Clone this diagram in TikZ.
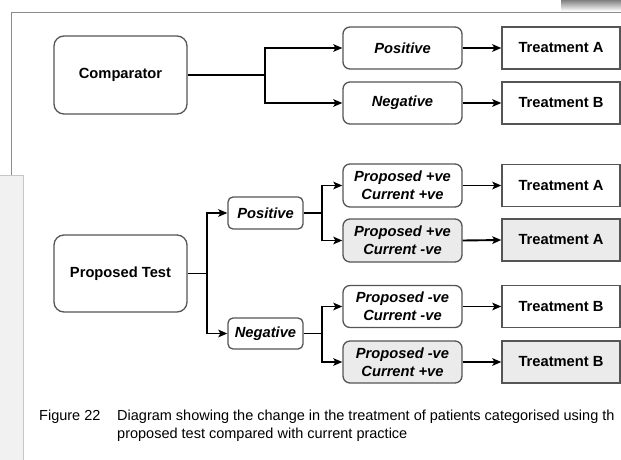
\documentclass[tikz,border=0pt]{standalone}
\usepackage{fontspec}
\setmainfont{Liberation Sans}
\usetikzlibrary{arrows.meta}
\definecolor{boxline}{HTML}{555555}
\definecolor{shade}{HTML}{EBEBEB}
\definecolor{frameline}{HTML}{8A8A8A}
\definecolor{panel}{HTML}{F1F1F1}
\tikzset{
  txt/.style={font=\fontsize{14.7}{18}\selectfont\bfseries, align=center, inner sep=0pt},
  bigbox/.style={txt, draw=boxline, line width=1.3pt, rounded corners=10pt},
  catbox/.style={txt, draw=boxline, line width=1.3pt, rounded corners=7pt, font=\fontsize{14.7}{18}\selectfont\bfseries\itshape},
  treatbox/.style={txt, draw=boxline, line width=1.3pt, minimum width=118pt},
  greyfill/.style={fill=shade},
  conn/.style={line width=1.9pt, black},
  arr/.style={conn, -{Stealth[length=9pt,width=7.5pt,inset=2pt]}},
  captext/.style={font=\fontsize{14.5}{17}\selectfont, inner sep=0pt, anchor=base west}
}
\begin{document}
\begin{tikzpicture}[x=1pt,y=-1pt]
\useasboundingbox (0,0) rectangle (621,460);
% page framing
\fill[shade] (561,0) rectangle (621,11);
\draw[frameline, line width=0.9pt] (11,175) -- (11,12) -- (622,12);
\fill[panel] (0,175) rectangle (23,461);
\draw[black!22, line width=0.9pt] (-1,175) -- (23,175) -- (23,461);

% top section
\node[bigbox, minimum width=133pt, minimum height=78pt] (comp) at (120.5,75) {Comparator};
\node[catbox, minimum width=119pt, minimum height=42pt] (pos1) at (402.5,48) {Positive};
\node[catbox, minimum width=119pt, minimum height=42pt] (neg1) at (402.5,103) {Negative};
\node[treatbox, minimum height=42pt] (tA1) at (561,48) {Treatment A};
\node[treatbox, minimum height=42pt] (tB1) at (561,103) {Treatment B};
\coordinate (j1) at (265,75);
\draw[conn] (comp.east) -- (j1);
\draw[arr] (j1) |- (pos1.west);
\draw[arr] (j1) |- (neg1.west);
\draw[arr] (pos1.east) -- (tA1.west);
\draw[arr] (neg1.east) -- (tB1.west);

% bottom section
\node[bigbox, minimum width=133pt, minimum height=77pt] (pt) at (120.5,273.5) {Proposed Test};
\node[catbox, rounded corners=5pt, minimum width=75pt, minimum height=32pt] (pos2) at (265.5,213) {Positive};
\node[catbox, rounded corners=5pt, minimum width=75pt, minimum height=31pt] (neg2) at (265.5,333.5) {Negative};
\node[catbox, minimum width=119pt, minimum height=43pt] (r1) at (402.5,185.5) {Proposed +ve\\Current +ve};
\node[catbox, greyfill, minimum width=119pt, minimum height=43pt] (r2) at (402.5,240.5) {Proposed +ve\\Current -ve};
\node[catbox, minimum width=119pt, minimum height=42pt] (r3) at (402.5,306.5) {Proposed -ve\\Current -ve};
\node[catbox, greyfill, minimum width=119pt, minimum height=42pt] (r4) at (402.5,362) {Proposed -ve\\Current +ve};
\node[treatbox, minimum height=42pt] (t1) at (561,185.5) {Treatment A};
\node[treatbox, greyfill, minimum height=42pt] (t2) at (561,240) {Treatment A};
\node[treatbox, minimum height=42pt] (t3) at (561,306.5) {Treatment B};
\node[treatbox, greyfill, minimum height=42pt] (t4) at (561,362) {Treatment B};
\coordinate (j2) at (207,273.5);
\coordinate (j3) at (322,213);
\coordinate (j4) at (322,333.5);
\draw[conn] (pt.east) -- (j2);
\draw[arr] (j2) |- (pos2.west);
\draw[arr] (j2) |- (neg2.west);
\draw[conn] (pos2.east) -- (j3);
\draw[arr] (j3) |- (r1.west);
\draw[arr] (j3) |- (r2.west);
\draw[conn] (neg2.east) -- (j4);
\draw[arr] (j4) |- (r3.west);
\draw[arr] (j4) |- (r4.west);
\draw[arr] (r1.east) -- (t1.west);
\draw[arr] (r2.east) -- (t2.west);
\draw[arr] (r3.east) -- (t3.west);
\draw[arr] (r4.east) -- (t4.west);

% caption
\node[captext] (fig) at (39,420) {Figure 22};
\node[captext] (cap1) at (117,420) {Diagram showing the change in the treatment of patients categorised using th};
\node[captext] (cap2) at (117,438) {proposed test compared with current practice};
\end{tikzpicture}
\end{document}
